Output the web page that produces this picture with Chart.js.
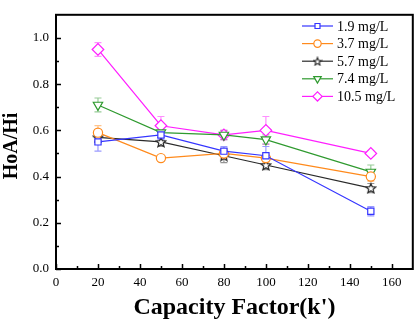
<!DOCTYPE html>
<html>
<head>
<meta charset="utf-8">
<script src="https://cdn.jsdelivr.net/npm/chart.js@4/dist/chart.umd.min.js"></script>
<style>
  html, body { margin: 0; padding: 0; background: #fff; }
  #wrap { width: 420px; height: 326px; position: relative; }
</style>
</head>
<body>
<div id="wrap"><canvas id="hoaChart" width="420" height="326"></canvas></div>
<script>
// data
const capacityFactor = [20, 50, 80, 100, 150];
const seriesLabels = ['1.9 mg/L', '3.7 mg/L', '5.7 mg/L', '7.4 mg/L', '10.5 mg/L'];
const hoa19 = [0.55, 0.58, 0.51, 0.49, 0.25];
const hoa37 = [0.59, 0.48, 0.50, 0.48, 0.40];
const hoa57 = [0.57, 0.55, 0.49, 0.45, 0.35];
const hoa74 = [0.71, 0.59, 0.58, 0.56, 0.42];
const hoa105 = [0.95, 0.62, 0.58, 0.60, 0.50];
const err19 = [0.04, 0.02, 0.02, 0.04, 0.02];
const err37 = [0.03, 0.01, 0.02, 0.02, 0.02];
const err57 = [0.02, 0.02, 0.03, 0.02, 0.02];
const err74 = [0.03, 0.02, 0.02, 0.02, 0.03];
const err105 = [0.03, 0.04, 0.02, 0.06, 0.01];
const yTicks = [0, 0.2, 0.4, 0.6, 0.8, 1.0];
const xTicks = [0, 20, 40, 60, 80, 100, 120, 140, 160];

const colors = ['#3535ff', '#ff8a1c', '#2a2a2a', '#2f9a2f', '#ff1fff'];
const serif = '"Liberation Serif", "Times New Roman", serif';

// hollow star marker (Chart.js 'star' is an asterisk)
function makeStar(color, size) {
    const c = document.createElement('canvas');
    c.width = size; c.height = size;
    const g = c.getContext('2d');
    const m = size / 2;
    g.strokeStyle = color;
    g.fillStyle = '#fff';
    g.lineWidth = 1.2;
    g.beginPath();
    for (let i = 0; i < 10; i++) {
        const r = i % 2 === 0 ? m - 0.9 : (m - 0.9) * 0.45;
        const a = -Math.PI / 2 + i * Math.PI / 5;
        const px = m + r * Math.cos(a), py = m + 0.5 + r * Math.sin(a);
        if (i === 0) g.moveTo(px, py); else g.lineTo(px, py);
    }
    g.closePath();
    g.fill();
    g.stroke();
    return c;
}
const starImg = makeStar(colors[2], 12);
const starSmall = makeStar(colors[2], 10);

const values = [hoa19, hoa37, hoa57, hoa74, hoa105];
const errors = [err19, err37, err57, err74, err105];
const styles = [
    { pointStyle: 'rect', radius: 4.4, rotation: 0 },
    { pointStyle: 'circle', radius: 4.6, rotation: 0 },
    { pointStyle: starImg, radius: 6, rotation: 0 },
    { pointStyle: 'triangle', radius: 5.4, rotation: 180 },
    { pointStyle: 'rectRot', radius: 5.8, rotation: 0 }
];

const datasets = values.map((v, i) => ({
    label: seriesLabels[i],
    data: capacityFactor.map((x, j) => ({ x: x, y: v[j] })),
    borderColor: colors[i],
    backgroundColor: '#fff',
    borderWidth: 1.2,
    pointStyle: styles[i].pointStyle,
    pointRadius: styles[i].radius,
    pointRotation: styles[i].rotation,
    pointBorderWidth: 1.2,
    pointBorderColor: colors[i],
    pointBackgroundColor: '#fff',
    tension: 0
}));

function hexA(hex, a) {
    const n = parseInt(hex.slice(1), 16);
    return `rgba(${n >> 16},${(n >> 8) & 255},${n & 255},${a})`;
}

const errorBars = {
    id: 'errorBars',
    beforeDatasetsDraw(chart) {
        const ctx = chart.ctx;
        const ys = chart.scales.y;
        ctx.save();
        ctx.lineWidth = 1.2;
        chart.data.datasets.forEach((ds, i) => {
            const meta = chart.getDatasetMeta(i);
            ctx.strokeStyle = hexA(colors[i], 0.5);
            meta.data.forEach((pt, j) => {
                const v = values[i][j], e = errors[i][j];
                const top = ys.getPixelForValue(v + e);
                const bot = ys.getPixelForValue(v - e);
                ctx.beginPath();
                ctx.moveTo(pt.x, top); ctx.lineTo(pt.x, bot);
                ctx.moveTo(pt.x - 3.5, top); ctx.lineTo(pt.x + 3.5, top);
                ctx.moveTo(pt.x - 3.5, bot); ctx.lineTo(pt.x + 3.5, bot);
                ctx.stroke();
            });
        });
        ctx.restore();
    }
};

const frameAndTicks = {
    id: 'frameAndTicks',
    afterDraw(chart) {
        const ctx = chart.ctx;
        const a = chart.chartArea;
        const xs = chart.scales.x, ys = chart.scales.y;
        ctx.save();
        ctx.strokeStyle = '#000';
        ctx.lineWidth = 2;
        ctx.strokeRect(a.left, a.top, a.right - a.left, a.bottom - a.top);
        ctx.lineWidth = 1.5;
        ctx.beginPath();
        for (let v = 0; v <= 1.05; v += 0.1) {
            const y = Math.round(ys.getPixelForValue(v)) + 0.5;
            const len = Math.round(v * 10) % 2 === 0 ? 5 : 3;
            ctx.moveTo(a.left, y); ctx.lineTo(a.left + len, y);
        }
        for (let v = 0; v <= 165; v += 10) {
            const x = Math.round(xs.getPixelForValue(v)) + 0.5;
            const len = v % 20 === 0 ? 5 : 3;
            ctx.moveTo(x, a.bottom); ctx.lineTo(x, a.bottom - len);
        }
        ctx.stroke();

        // y axis title
        ctx.save();
        ctx.translate(12, 146);
        ctx.rotate(-Math.PI / 2);
        ctx.font = 'bold 20px ' + serif;
        ctx.textAlign = 'center';
        ctx.textBaseline = 'middle';
        ctx.fillStyle = '#000';
        ctx.fillText('HoA/Hi', 0, 0);
        ctx.restore();

        // legend: line - marker - line
        ctx.font = '14px ' + serif;
        ctx.textBaseline = 'middle';
        ctx.textAlign = 'left';
        const lx0 = 302, lx1 = 333, tx = 337;
        let ly = 26;
        chart.data.datasets.forEach((ds, i) => {
            ctx.strokeStyle = colors[i];
            ctx.lineWidth = 1.2;
            ctx.beginPath();
            ctx.moveTo(lx0, ly); ctx.lineTo(lx1, ly);
            ctx.stroke();
            const cx = (lx0 + lx1) / 2;
            ctx.fillStyle = '#fff';
            ctx.strokeStyle = colors[i];
            const isStar = styles[i].pointStyle === starImg;
            Chart.helpers.drawPoint(ctx, {
                pointStyle: isStar ? starSmall : styles[i].pointStyle,
                radius: isStar ? 5 : styles[i].radius * 0.8,
                rotation: styles[i].rotation,
                borderWidth: 1.2
            }, cx, ly);
            ctx.fillStyle = '#000';
            ctx.fillText(seriesLabels[i], tx, ly + 1);
            ly += 17.6;
        });
        ctx.restore();
    }
};

new Chart(document.getElementById('hoaChart').getContext('2d'), {
    type: 'line',
    data: { datasets: datasets },
    options: {
        responsive: false,
        animation: false,
        devicePixelRatio: 1,
        layout: { padding: { top: 7, right: 7, left: 0, bottom: 0 } },
        plugins: {
            legend: { display: false },
            tooltip: { enabled: false }
        },
        scales: {
            x: {
                type: 'linear',
                min: 0, max: 170,
                afterBuildTicks: s => { s.ticks = xTicks.map(v => ({ value: v })); },
                afterFit: s => { s.height = 57; },
                grid: { display: false, drawTicks: false },
                border: { display: true, color: '#000', width: 2 },
                ticks: {
                    color: '#000', padding: 6,
                    font: { family: serif, size: 13 },
                    maxRotation: 0
                },
                title: {
                    display: true, text: "Capacity Factor(k')", color: '#000',
                    font: { family: serif, size: 24, weight: 'bold' },
                    padding: { top: 0, bottom: 4 }
                }
            },
            y: {
                min: 0, max: 1.1,
                afterBuildTicks: s => { s.ticks = yTicks.map(v => ({ value: v })); },
                afterFit: s => { s.width = 56; },
                grid: { display: false, drawTicks: false },
                border: { display: true, color: '#000', width: 2 },
                ticks: {
                    color: '#000', padding: 7,
                    font: { family: serif, size: 13 },
                    callback: v => v.toFixed(1)
                },
                title: { display: false }
            }
        }
    },
    plugins: [errorBars, frameAndTicks]
});
</script>
</body>
</html>
